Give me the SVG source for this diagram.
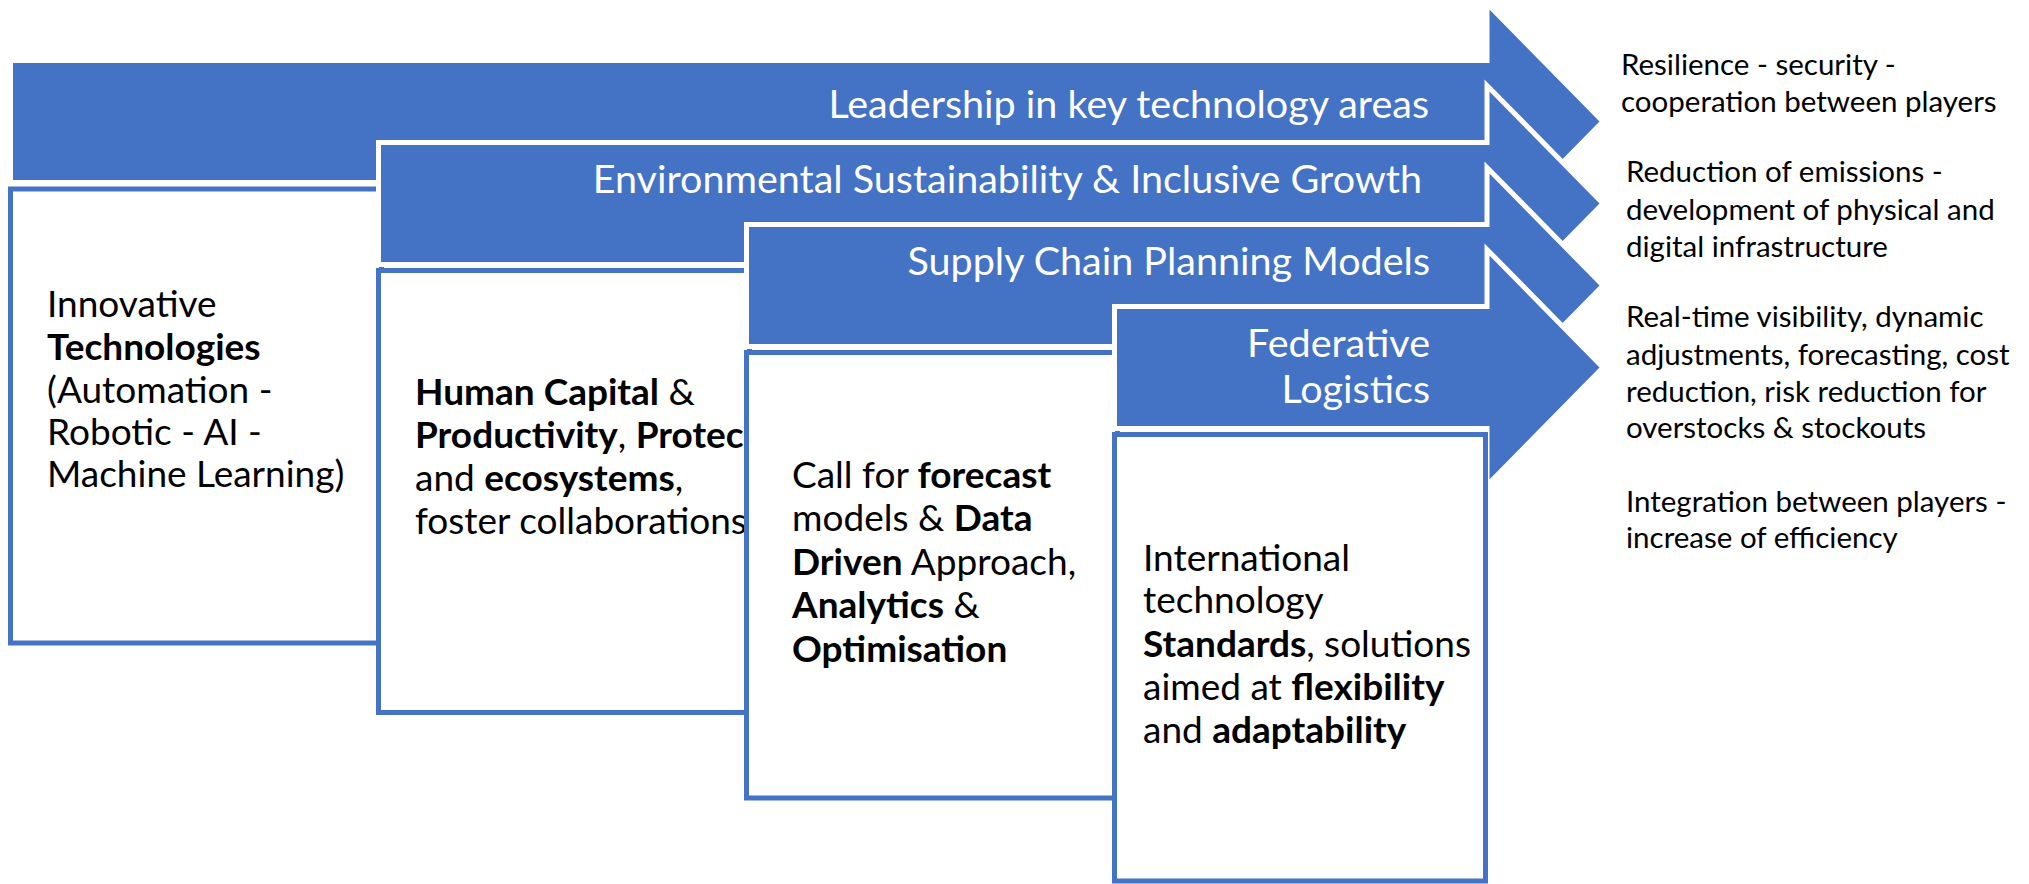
<svg xmlns="http://www.w3.org/2000/svg" width="2029" height="884" viewBox="0 0 2029 884">
<style>
.band{fill:#4472C4;stroke:#FFFFFF;stroke-width:5;stroke-linejoin:miter;stroke-miterlimit:10}
.box{fill:#FFFFFF;stroke:#4472C4;stroke-width:5}
.bt{font-family:Lato,"Liberation Sans",sans-serif;font-size:39.5px;fill:#FFFFFF;text-anchor:end}
.t{font-family:Lato,"Liberation Sans",sans-serif;font-size:37px;fill:#000000}
.r{font-family:Lato,"Liberation Sans",sans-serif;font-size:29.5px;fill:#000000}
.b{font-weight:bold}
</style>
<rect x="0" y="0" width="2029" height="884" fill="#FFFFFF"/>
<g id="connectors"></g>
<g id="step1">
<path class="band" d="M10.5,60.5 H1487 V3.5 L1603,121.5 L1487,239.5 V182.5 H10.5 Z"/>
<text class="bt" x="1429" y="118">Leadership in key technology areas</text>
<rect class="box" x="10.5" y="189" width="371" height="454"/>
<text class="t" x="47" y="317">Innovative</text>
<text class="t b" x="47" y="360">Technologies</text>
<text class="t" x="47" y="403">(Automation -</text>
<text class="t" x="47" y="445">Robotic - AI -</text>
<text class="t" x="47" y="487">Machine Learning)</text>
</g>
<g id="step2">
<path class="band" d="M378.5,142.5 H1487 V85.5 L1603,203.5 L1487,321.5 V264.5 H378.5 Z"/>
<text class="bt" x="1422" y="193">Environmental Sustainability &amp; Inclusive Growth</text>
<rect class="box" x="378.5" y="270.5" width="371" height="442"/>
<text class="t" x="415" y="405"><tspan class="b">Human Capital</tspan> &amp;</text>
<text class="t" x="415" y="448"><tspan class="b">Productivity</tspan>, <tspan class="b">Protect</tspan></text>
<text class="t" x="415" y="491">and <tspan class="b">ecosystems</tspan>,</text>
<text class="t" x="415" y="534">foster collaborations</text>
</g>
<g id="step3">
<path class="band" d="M746.5,224.5 H1487 V167.5 L1603,285.5 L1487,403.5 V346.5 H746.5 Z"/>
<text class="bt" x="1430" y="275">Supply Chain Planning Models</text>
<rect class="box" x="746.5" y="352.5" width="371" height="445.5"/>
<text class="t" x="792" y="488">Call for <tspan class="b">forecast</tspan></text>
<text class="t" x="792" y="531">models &amp; <tspan class="b">Data</tspan></text>
<text class="t" x="792" y="575"><tspan class="b">Driven</tspan> Approach,</text>
<text class="t" x="792" y="618"><tspan class="b">Analytics</tspan> &amp;</text>
<text class="t b" x="792" y="662">Optimisation</text>
</g>
<g id="step4">
<path class="band" d="M1114.5,306.5 H1487 V249.5 L1603,367.5 L1487,485.5 V428.5 H1114.5 Z"/>
<text class="bt" x="1430" y="357">Federative</text>
<text class="bt" x="1430" y="403">Logistics</text>
<rect class="box" x="1114.5" y="434.5" width="371" height="446.5"/>
<text class="t" x="1143" y="571">International</text>
<text class="t" x="1143" y="613">technology</text>
<text class="t" x="1143" y="657"><tspan class="b">Standards</tspan>, solutions</text>
<text class="t" x="1143" y="700">aimed at <tspan class="b">flexibility</tspan></text>
<text class="t" x="1143" y="743">and <tspan class="b">adaptability</tspan></text>
</g>
<g id="outcome1">
<text class="r" x="1621" y="75">Resilience - security -</text>
<text class="r" x="1621" y="112">cooperation between players</text>
</g>
<g id="outcome2">
<text class="r" x="1626" y="182">Reduction of emissions -</text>
<text class="r" x="1626" y="220">development of physical and</text>
<text class="r" x="1626" y="257">digital infrastructure</text>
</g>
<g id="outcome3">
<text class="r" x="1626" y="327">Real-time visibility, dynamic</text>
<text class="r" x="1626" y="365">adjustments, forecasting, cost</text>
<text class="r" x="1626" y="402">reduction, risk reduction for</text>
<text class="r" x="1626" y="438">overstocks &amp; stockouts</text>
</g>
<g id="outcome4">
<text class="r" x="1626" y="512">Integration between players -</text>
<text class="r" x="1626" y="548">increase of efficiency</text>
</g>
</svg>
